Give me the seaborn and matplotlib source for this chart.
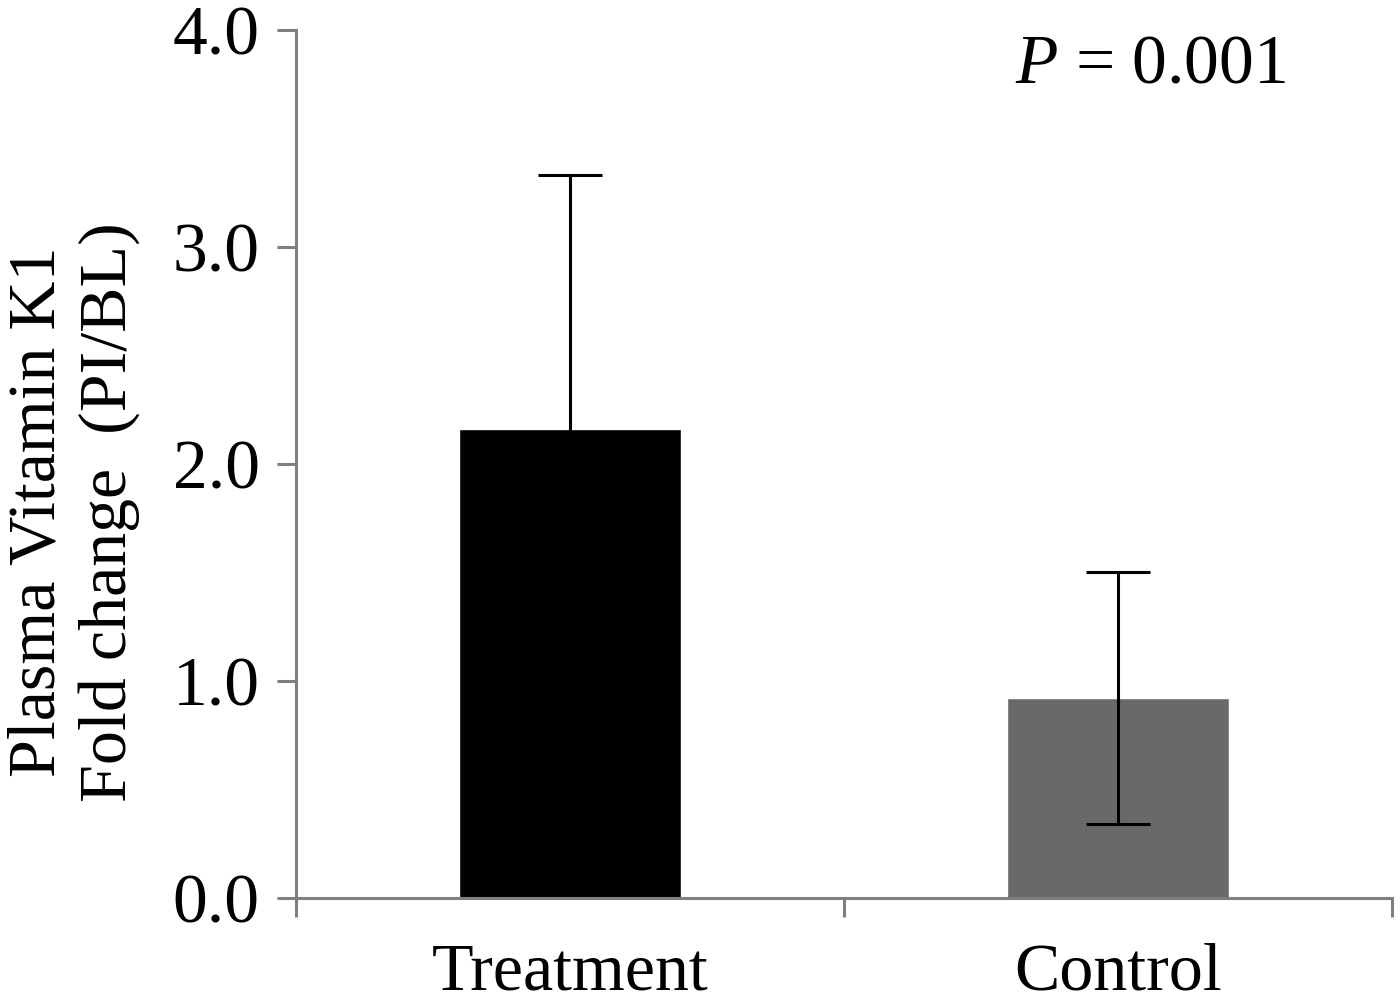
import pandas as pd
import numpy as np
import matplotlib
matplotlib.use("Agg")
import matplotlib.pyplot as plt
import seaborn as sns
from matplotlib.ticker import FixedLocator

# Values
groups = ["Treatment", "Control"]
fold_change = [2.16, 0.92]
error = [1.17, 0.58]
bar_colors = ["#000000", "#696969"]
y_ticks = [0.0, 1.0, 2.0, 3.0, 4.0]

df = pd.DataFrame({"group": groups, "fold_change": fold_change, "error": error})

sns.set_style("white")
plt.rcParams["font.family"] = ["Liberation Serif", "DejaVu Serif"]
plt.rcParams["mathtext.fontset"] = "custom"
plt.rcParams["mathtext.rm"] = "Liberation Serif"
plt.rcParams["mathtext.it"] = "Liberation Serif:italic"
plt.rcParams["text.color"] = "black"
plt.rcParams["axes.labelcolor"] = "black"
plt.rcParams["xtick.labelcolor"] = "black"
plt.rcParams["ytick.labelcolor"] = "black"

fig = plt.figure(figsize=(14, 10.05), dpi=100)
ax = fig.add_axes([0.2114, 0.1065, 0.7829, 0.8636])

sns.barplot(data=df, x="group", y="fold_change", hue="group", palette=bar_colors,
            width=0.405, errorbar=None, legend=False, ax=ax, saturation=1)

# error bars (mean +/- SD)
ax.errorbar(x=range(len(groups)), y=df["fold_change"], yerr=df["error"], fmt="none",
            ecolor="black", elinewidth=2.2, capsize=23, capthick=2.2, zorder=5)

ax.set_xlim(-0.5, 1.5)
ax.set_ylim(0, 4)
ax.set_yticks(y_ticks)
ax.set_yticklabels([f"{t:.1f}" for t in y_ticks])
ax.xaxis.set_minor_locator(FixedLocator([-0.5, 0.5, 1.5]))

spine_color = "#7f7f7f"
for side in ["top", "right"]:
    ax.spines[side].set_visible(False)
for side in ["left", "bottom"]:
    ax.spines[side].set_color(spine_color)
    ax.spines[side].set_linewidth(2.2)

ax.tick_params(axis="y", which="major", direction="out", length=14, width=2.2,
               color=spine_color, labelsize=50, pad=12, left=True)
ax.tick_params(axis="x", which="major", length=0, labelsize=49, pad=32)
ax.tick_params(axis="x", which="minor", direction="out", length=14, width=2.2,
               color=spine_color, bottom=True)

ax.set_xlabel("")
ax.set_ylabel("Plasma Vitamin K1\nFold change  (PI/BL)", fontsize=49, linespacing=1.2,
              va="center", ha="center", multialignment="center")
ax.yaxis.set_label_coords(-0.203, 0.445)

ax.text(0.903, 0.995, r"$P$ = 0.001", transform=ax.transAxes, fontsize=50,
        ha="right", va="top")

fig.savefig("out.png", dpi=100)
